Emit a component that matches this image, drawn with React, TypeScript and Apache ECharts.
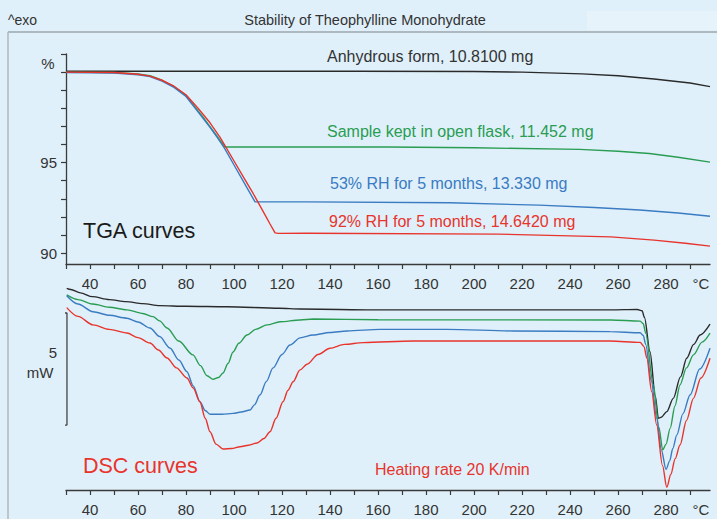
import React, { useEffect, useRef } from "react";
import * as echarts from "echarts";

const xTickValues = [30, 40, 50, 60, 70, 80, 90, 100, 110, 120, 130, 140, 150, 160, 170, 180, 190, 200, 210, 220, 230, 240, 250, 260, 270, 280, 290];
const xLabelValues = [40, 60, 80, 100, 120, 140, 160, 180, 200, 220, 240, 260, 280];
const tgaYTickValues = [90, 91, 92, 93, 94, 95, 96, 97, 98, 99, 100, 101];
const tgaYLabelValues = [90, 95];

// TGA curves: [temperature °C, mass %]
const tgaAnhydrous = [[30, 100.05], [150, 100.05], [200, 100.03], [220, 100.0], [245, 99.9], [260, 99.8], [275, 99.62], [290, 99.4], [298.3, 99.2]];
const tgaOpenFlask = [[30, 100.0], [50, 99.98], [60, 99.9], [65, 99.8], [70, 99.55], [75, 99.2], [80, 98.7], [85, 97.86], [87.1, 97.51], [90, 96.99], [93, 96.45], [96.25, 95.86], [120, 95.86], [164, 95.86], [200, 95.82], [244, 95.73], [260, 95.63], [273, 95.5], [285, 95.3], [298.3, 95.03]];
const tga53RH = [[30, 99.97], [50, 99.95], [60, 99.85], [65, 99.75], [70, 99.5], [75, 99.15], [80, 98.65], [85, 97.8], [90, 96.95], [93, 96.4], [96, 95.8], [100, 94.87], [104, 93.94], [108.75, 92.83], [130, 92.83], [190, 92.78], [227, 92.65], [250, 92.52], [269, 92.38], [285, 92.22], [298.3, 92.04]];
const tga92RH = [[30, 100.0], [50, 99.98], [60, 99.88], [65, 99.78], [70, 99.55], [75, 99.22], [80, 98.75], [85, 98.0], [90, 97.2], [94.2, 96.4], [100, 95.09], [104, 94.19], [107.9, 93.31], [112, 92.33], [115, 91.61], [117.1, 91.12], [118.5, 91.09], [130, 91.1], [210, 91.05], [257, 90.9], [275, 90.72], [288, 90.55], [298.3, 90.39]];

// DSC curves: [temperature °C, heat flow mW (offset)]
const dscAnhydrous = [[30.3, 9.0], [32, 8.95], [36, 8.8], [41, 8.63], [48, 8.5], [55, 8.41], [62, 8.32], [69, 8.23], [80, 8.2], [97, 8.18], [119, 8.11], [127.5, 8.08], [160, 8.04], [257, 8.04], [268, 8.06], [270, 8.0], [271, 7.7], [273.3, 6.17], [275.5, 4.2], [276.8, 3.2], [278, 3.25], [280.3, 3.5], [283, 4.09], [286, 5.05], [288.6, 5.88], [291.5, 6.5], [294.2, 6.92], [298.3, 7.4]];
const dscOpenFlask = [[30.3, 8.71], [35, 8.5], [41.25, 8.3], [48, 8.16], [55.4, 8.04], [62, 7.88], [66.25, 7.74], [69, 7.55], [72.1, 7.23], [77, 6.65], [82.9, 6.03], [86, 5.55], [88.75, 5.1], [91.25, 4.94], [93.5, 5.02], [95.4, 5.22], [97.5, 5.65], [99.6, 6.16], [102, 6.55], [105.4, 6.92], [109, 7.17], [113.75, 7.37], [119.2, 7.51], [127.5, 7.59], [133, 7.63], [160, 7.6], [257, 7.59], [269.2, 7.54], [270.5, 7.42], [271.5, 7.0], [274.7, 4.69], [277, 2.8], [278.6, 1.79], [280, 2.05], [281.7, 2.75], [283.7, 3.75], [285.8, 4.69], [288.5, 5.45], [291.4, 6.03], [295, 6.6], [298.3, 7.0]];
const dsc53RH = [[30.3, 8.67], [35, 8.3], [41.25, 7.96], [48, 7.8], [55.4, 7.67], [60, 7.5], [65, 7.23], [69, 6.85], [73.3, 6.34], [77, 5.8], [80.4, 5.28], [83, 4.65], [85.8, 3.94], [88, 3.55], [90, 3.38], [95, 3.38], [99.6, 3.42], [103, 3.48], [106.7, 3.57], [108.5, 3.8], [110.8, 4.24], [113.5, 4.85], [116.25, 5.45], [120, 6.05], [123.3, 6.47], [127.5, 6.79], [132.9, 6.92], [140, 7.03], [147.1, 7.1], [160.8, 7.17], [188.75, 7.17], [216.25, 7.1], [256.7, 7.07], [269.2, 7.02], [270.5, 6.9], [271.5, 6.5], [273.8, 4.9], [276.1, 3.2], [278, 1.8], [280, 0.92], [281.5, 1.3], [282.8, 1.85], [284.5, 2.46], [287, 3.4], [290, 4.24], [294, 5.4], [298.3, 6.33]];
const dsc92RH = [[30.3, 8.14], [35, 7.75], [41.25, 7.37], [48, 7.17], [55.4, 7.01], [60, 6.8], [65, 6.56], [68.5, 6.25], [72.1, 5.89], [76, 5.45], [80.4, 5.0], [83, 4.55], [85.8, 3.94], [88, 3.2], [90, 2.6], [92.5, 2.05], [95.4, 1.83], [99, 1.85], [102.5, 1.93], [106, 2.0], [109.6, 2.1], [112.5, 2.3], [115, 2.6], [117.5, 3.2], [120.4, 3.94], [122.5, 4.45], [124.6, 4.83], [127.5, 5.36], [130.4, 5.61], [135, 6.05], [140, 6.33], [146, 6.5], [153.75, 6.58], [174.6, 6.65], [256.7, 6.65], [269.2, 6.59], [270.8, 6.4], [272, 5.88], [274, 4.4], [276.1, 2.9], [278.5, 1.1], [280.3, 0.12], [282, 0.7], [283.8, 1.4], [285.8, 2.01], [288.5, 3.1], [291.4, 4.09], [294.5, 5.0], [298.3, 5.88]];

// 5 mW scale bar
const scaleBar = [[28.4, 7.9], [30.4, 7.9], [30.4, 2.9], [28.4, 2.9]];

const BG = "#dff0fa";
const BLACK = "#2a2a2a";
const GREEN = "#2a9d52";
const BLUE = "#3a7bc2";
const RED = "#e8342c";
const FONT = "Liberation Sans, Arial, sans-serif";
const AXIS = "#3a3a3a";

export default function App() {
  const ref = useRef<HTMLDivElement>(null);
  useEffect(() => {
    document.body.style.margin = "0";
    document.body.style.background = BG;
    if (!ref.current) return;
    const chart = echarts.init(ref.current, undefined, { renderer: "svg" });
    const xAxisBase = (gridIndex: number) => ({
      type: "value",
      gridIndex,
      min: 30,
      max: 298.3,
      axisLine: { show: true, lineStyle: { color: AXIS, width: 1.3 } },
      axisTick: { show: true, length: 5, customValues: xTickValues, lineStyle: { color: AXIS, width: 1.2 } },
      axisLabel: { show: true, customValues: xLabelValues, margin: 12, color: "#333", fontSize: 15, fontFamily: FONT },
      splitLine: { show: false },
    });
    const line = (data: number[][], color: string, xi: number, yi: number) => ({
      type: "line",
      xAxisIndex: xi,
      yAxisIndex: yi,
      data,
      symbol: "none",
      smooth: false,
      lineStyle: { color, width: 1.4 },
      silent: true,
    });
    const dscLine = (data: number[][], color: string) => ({
      ...line(data, color, 1, 1),
      smooth: 0.3,
      smoothMonotone: "x",
    });
    const text = (x: number, y: number, t: string, color: string, size: number, align = "left") => ({
      type: "text",
      x,
      y,
      style: { text: t, fill: color, fontSize: size, fontFamily: FONT, textAlign: align, textVerticalAlign: "middle" },
      silent: true,
    });
    chart.setOption({
      animation: false,
      backgroundColor: BG,
      grid: [
        { left: 66, right: 7, top: 54, bottom: 255 },
        { left: 66, right: 7, top: 283.9, bottom: 29 },
      ],
      xAxis: [xAxisBase(0), xAxisBase(1)],
      yAxis: [
        {
          type: "value",
          gridIndex: 0,
          min: 89.4,
          max: 101,
          axisLine: { show: true, lineStyle: { color: AXIS, width: 1.3 } },
          axisTick: { show: true, length: 5, customValues: tgaYTickValues, lineStyle: { color: AXIS, width: 1.2 } },
          axisLabel: { show: true, customValues: tgaYLabelValues, margin: 9, color: "#333", fontSize: 15, fontFamily: FONT },
          splitLine: { show: false },
        },
        { type: "value", gridIndex: 1, min: 0, max: 9.2, show: false },
      ],
      series: [
        line(tgaAnhydrous, BLACK, 0, 0),
        line(tgaOpenFlask, GREEN, 0, 0),
        line(tga53RH, BLUE, 0, 0),
        line(tga92RH, RED, 0, 0),
        dscLine(dscAnhydrous, BLACK),
        dscLine(dscOpenFlask, GREEN),
        dscLine(dsc53RH, BLUE),
        dscLine(dsc92RH, RED),
        { ...line(scaleBar, "#444", 1, 1), clip: false, lineStyle: { color: "#444", width: 1.3 } },
      ],
      graphic: [
        { type: "rect", shape: { x: 587, y: 11, width: 130, height: 19 }, style: { fill: "#e7f3fa" }, silent: true },
        { type: "line", shape: { x1: 8, y1: 32, x2: 717, y2: 32 }, style: { stroke: "#9ea6ab", lineWidth: 1.6 }, silent: true },
        { type: "line", shape: { x1: 8, y1: 32, x2: 8, y2: 519 }, style: { stroke: "#b4bcc1", lineWidth: 1.6 }, silent: true },
        text(365, 20, "Stability of Theophylline Monohydrate", "#333", 14.5, "center"),
        text(8, 20, "^exo", "#333", 14),
        text(48, 63, "%", "#333", 15, "center"),
        text(701, 283, "°C", "#333", 15, "center"),
        text(701, 509, "°C", "#333", 15, "center"),
        text(327, 56, "Anhydrous form, 10.8100 mg", "#333", 16),
        text(327, 131, "Sample kept in open flask, 11.452 mg", GREEN, 16),
        text(330, 183, "53% RH for 5 months, 13.330 mg", BLUE, 16),
        text(329, 221, "92% RH for 5 months, 14.6420 mg", RED, 16),
        text(83, 231, "TGA curves", "#1a1a1a", 21.5),
        text(83, 466, "DSC curves", RED, 21.5),
        text(375, 469, "Heating rate 20 K/min", RED, 16),
        text(53, 352, "5", "#333", 15, "center"),
        text(40, 372, "mW", "#333", 15, "center"),
      ],
    });
    return () => chart.dispose();
  }, []);
  return <div ref={ref} style={{ position: "fixed", left: 0, top: 0, width: 717, height: 519 }} />;
}
